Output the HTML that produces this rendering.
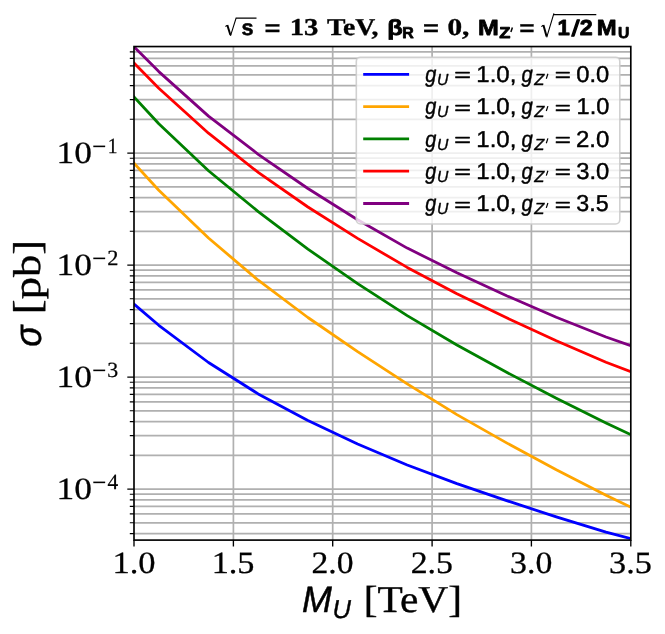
<!DOCTYPE html>
<html><head><meta charset="utf-8"><title>plot</title>
<style>html,body{margin:0;padding:0;background:#fff}svg{display:block}text{fill:#000;white-space:pre;text-rendering:geometricPrecision}</style>
</head><body>
<svg width="665" height="634" viewBox="0 0 665 634">
<rect x="0" y="0" width="665" height="634" fill="#fff"/>
<path d="M233.4 46.5V540.1M332.7 46.5V540.1M432.1 46.5V540.1M531.4 46.5V540.1M134.0 153.1H630.8M134.0 265.1H630.8M134.0 377.1H630.8M134.0 489.1H630.8M134.0 533.6H630.8M134.0 522.8H630.8M134.0 513.9H630.8M134.0 506.4H630.8M134.0 499.9H630.8M134.0 494.2H630.8M134.0 455.3H630.8M134.0 435.6H630.8M134.0 421.6H630.8M134.0 410.8H630.8M134.0 401.9H630.8M134.0 394.4H630.8M134.0 387.9H630.8M134.0 382.2H630.8M134.0 343.3H630.8M134.0 323.6H630.8M134.0 309.6H630.8M134.0 298.8H630.8M134.0 289.9H630.8M134.0 282.4H630.8M134.0 275.9H630.8M134.0 270.2H630.8M134.0 231.3H630.8M134.0 211.6H630.8M134.0 197.6H630.8M134.0 186.8H630.8M134.0 177.9H630.8M134.0 170.4H630.8M134.0 163.9H630.8M134.0 158.2H630.8M134.0 119.3H630.8M134.0 99.6H630.8M134.0 85.6H630.8M134.0 74.8H630.8M134.0 65.9H630.8M134.0 58.4H630.8M134.0 51.9H630.8" stroke="#b0b0b0" stroke-width="1.7" fill="none"/>
<clipPath id="ax"><rect x="134.0" y="46.55" width="496.79999999999995" height="493.55"/></clipPath>
<g clip-path="url(#ax)" fill="none" stroke-width="2.78" stroke-linejoin="round" stroke-linecap="square">
<path d="M134.0 304.1L158.8 325.3L208.5 362.5L258.2 393.9L307.9 420.4L357.6 444.0L407.2 465.0L456.9 483.6L506.6 500.6L556.3 516.9L606.0 532.1L630.8 538.6" stroke="#0000ff"/>
<path d="M134.0 163.1L158.8 190.3L208.5 238.0L258.2 280.2L307.9 317.5L357.6 351.7L407.2 383.8L456.9 414.6L506.6 442.9L556.3 469.8L606.0 495.2L630.8 507.2" stroke="#ffa500"/>
<path d="M134.0 96.9L158.8 123.7L208.5 170.7L258.2 211.6L307.9 249.1L357.6 283.6L407.2 315.6L456.9 345.0L506.6 372.3L556.3 398.2L606.0 423.0L630.8 434.7" stroke="#008000"/>
<path d="M134.0 63.1L158.8 88.2L208.5 133.2L258.2 172.4L307.9 207.0L357.6 238.4L407.2 267.4L456.9 293.8L506.6 317.8L556.3 340.8L606.0 362.3L630.8 371.6" stroke="#ff0000"/>
<path d="M134.0 46.8L158.8 71.6L208.5 116.1L258.2 154.3L307.9 188.5L357.6 219.7L407.2 248.1L456.9 272.7L506.6 295.7L556.3 317.3L606.0 337.0L630.8 345.6" stroke="#800080"/>
</g>
<path d="M134.0 540.1v6.4M233.4 540.1v6.4M332.7 540.1v6.4M432.1 540.1v6.4M531.4 540.1v6.4M630.8 540.1v6.4M134.0 153.1h-6.7M134.0 265.1h-6.7M134.0 377.1h-6.7M134.0 489.1h-6.7" stroke="#000" stroke-width="1.35" fill="none"/>
<path d="M134.0 533.6h-4.2M134.0 522.8h-4.2M134.0 513.9h-4.2M134.0 506.4h-4.2M134.0 499.9h-4.2M134.0 494.2h-4.2M134.0 455.3h-4.2M134.0 435.6h-4.2M134.0 421.6h-4.2M134.0 410.8h-4.2M134.0 401.9h-4.2M134.0 394.4h-4.2M134.0 387.9h-4.2M134.0 382.2h-4.2M134.0 343.3h-4.2M134.0 323.6h-4.2M134.0 309.6h-4.2M134.0 298.8h-4.2M134.0 289.9h-4.2M134.0 282.4h-4.2M134.0 275.9h-4.2M134.0 270.2h-4.2M134.0 231.3h-4.2M134.0 211.6h-4.2M134.0 197.6h-4.2M134.0 186.8h-4.2M134.0 177.9h-4.2M134.0 170.4h-4.2M134.0 163.9h-4.2M134.0 158.2h-4.2M134.0 119.3h-4.2M134.0 99.6h-4.2M134.0 85.6h-4.2M134.0 74.8h-4.2M134.0 65.9h-4.2M134.0 58.4h-4.2M134.0 51.9h-4.2" stroke="#000" stroke-width="1.1" fill="none"/>
<rect x="134.0" y="46.55" width="496.79999999999995" height="493.55" fill="none" stroke="#000" stroke-width="1.65"/>
<rect x="356.3" y="57.3" width="263.49999999999994" height="166.7" rx="4.2" fill="#fff" fill-opacity="0.8" stroke="#ccc" stroke-opacity="0.9" stroke-width="1.6"/>
<path d="M363.2 74.3H409.1" stroke="#0000ff" stroke-width="2.78" fill="none"/>
<path d="M363.2 106.6H409.1" stroke="#ffa500" stroke-width="2.78" fill="none"/>
<path d="M363.2 138.9H409.1" stroke="#008000" stroke-width="2.78" fill="none"/>
<path d="M363.2 171.2H409.1" stroke="#ff0000" stroke-width="2.78" fill="none"/>
<path d="M363.2 203.5H409.1" stroke="#800080" stroke-width="2.78" fill="none"/>
<path d="M547.9 73.8L546.3 78.7M547.9 106.1L546.3 111.0M547.9 138.4L546.3 143.3M547.9 170.7L546.3 175.6M547.9 203.0L546.3 207.9" stroke="#000" stroke-width="1.2" fill="none"/>
<path d="M225.4 26.5L227.2 25.4M230.5 35.8L236.1 18.1H256.5" stroke="#000" stroke-width="1.1" fill="none" stroke-linejoin="miter" stroke-miterlimit="10"/>
<path d="M227.3 25.0L230.4 35.0" stroke="#000" stroke-width="2.0" fill="none"/>
<path d="M541.3 26.6L543.3 25.3M546.7 37.4L553.9 13.4" stroke="#000" stroke-width="1.1" fill="none"/>
<path d="M553.4 14.66H596.3" stroke="#000" stroke-width="1.2" fill="none"/>
<path d="M543.4 25.0L546.6 36.4" stroke="#000" stroke-width="2.0" fill="none"/>
<path d="M512.4 27.4L510.9 32.0" stroke="#000" stroke-width="1.5" fill="none"/>
<g opacity="0.999">
<text transform="translate(112.44,573.20) scale(1.1146,1.0000)" style='font-family:"Liberation Serif",serif;font-size:31.00px;stroke:#000;stroke-width:0.30px;stroke-linejoin:round'>1.0</text>
<text transform="translate(211.66,573.20) scale(1.1060,1.0000)" style='font-family:"Liberation Serif",serif;font-size:31.00px;stroke:#000;stroke-width:0.30px;stroke-linejoin:round'>1.5</text>
<text transform="translate(311.44,573.20) scale(1.0854,1.0000)" style='font-family:"Liberation Serif",serif;font-size:31.00px;stroke:#000;stroke-width:0.30px;stroke-linejoin:round'>2.0</text>
<text transform="translate(410.63,573.20) scale(1.0910,1.0000)" style='font-family:"Liberation Serif",serif;font-size:31.00px;stroke:#000;stroke-width:0.30px;stroke-linejoin:round'>2.5</text>
<text transform="translate(510.06,573.20) scale(1.0901,1.0000)" style='font-family:"Liberation Serif",serif;font-size:31.00px;stroke:#000;stroke-width:0.30px;stroke-linejoin:round'>3.0</text>
<text transform="translate(609.04,573.20) scale(1.1040,1.0000)" style='font-family:"Liberation Serif",serif;font-size:31.00px;stroke:#000;stroke-width:0.30px;stroke-linejoin:round'>3.5</text>
<text transform="translate(56.46,162.65) scale(1.1420,1.0000)" style='font-family:"Liberation Serif",serif;font-size:31.00px;stroke:#000;stroke-width:0.30px;stroke-linejoin:round'>10</text>
<text transform="translate(107.86,152.85) scale(0.9019,1.0000)" style='font-family:"Liberation Serif",serif;font-size:21.70px;stroke:#000;stroke-width:0.25px;stroke-linejoin:round'>1</text>
<text transform="translate(92.02,157.21) scale(1.1793,1.4747)" style='font-family:"Liberation Serif",serif;font-size:21.70px'>−</text>
<text transform="translate(56.46,274.65) scale(1.1420,1.0000)" style='font-family:"Liberation Serif",serif;font-size:31.00px;stroke:#000;stroke-width:0.30px;stroke-linejoin:round'>10</text>
<text transform="translate(107.32,264.85) scale(1.0311,1.0000)" style='font-family:"Liberation Serif",serif;font-size:21.70px;stroke:#000;stroke-width:0.25px;stroke-linejoin:round'>2</text>
<text transform="translate(92.02,269.21) scale(1.1793,1.4747)" style='font-family:"Liberation Serif",serif;font-size:21.70px'>−</text>
<text transform="translate(56.46,386.65) scale(1.1420,1.0000)" style='font-family:"Liberation Serif",serif;font-size:31.00px;stroke:#000;stroke-width:0.30px;stroke-linejoin:round'>10</text>
<text transform="translate(107.23,376.85) scale(1.0060,1.0000)" style='font-family:"Liberation Serif",serif;font-size:21.70px;stroke:#000;stroke-width:0.25px;stroke-linejoin:round'>3</text>
<text transform="translate(92.02,381.21) scale(1.1793,1.4747)" style='font-family:"Liberation Serif",serif;font-size:21.70px'>−</text>
<text transform="translate(56.46,498.65) scale(1.1420,1.0000)" style='font-family:"Liberation Serif",serif;font-size:31.00px;stroke:#000;stroke-width:0.30px;stroke-linejoin:round'>10</text>
<text transform="translate(107.60,488.85) scale(0.9861,1.0000)" style='font-family:"Liberation Serif",serif;font-size:21.70px;stroke:#000;stroke-width:0.25px;stroke-linejoin:round'>4</text>
<text transform="translate(92.02,493.21) scale(1.1793,1.4747)" style='font-family:"Liberation Serif",serif;font-size:21.70px'>−</text>
<text transform="translate(302.02,611.80) scale(0.9739,1.0000)" style='font-family:"Liberation Sans",sans-serif;font-size:36.80px;font-style:italic;stroke:#000;stroke-width:0.50px;stroke-linejoin:round'>M</text>
<text transform="translate(332.48,617.60) scale(0.9899,1.0000)" style='font-family:"Liberation Sans",sans-serif;font-size:25.80px;font-style:italic;stroke:#000;stroke-width:0.40px;stroke-linejoin:round'>U</text>
<text transform="translate(363.80,611.80) scale(1.0893,1.0000)" style='font-family:"Liberation Serif",serif;font-size:38.00px;stroke:#000;stroke-width:0.40px;stroke-linejoin:round'>[TeV]</text>
<text transform="translate(40.80,346.84) rotate(-90) scale(0.9250,1.0000)" style='font-family:"Liberation Sans",sans-serif;font-size:38.20px;font-style:italic;stroke:#000;stroke-width:0.40px;stroke-linejoin:round'>σ</text>
<text transform="translate(40.20,314.14) rotate(-90) scale(1.1466,1.0000)" style='font-family:"Liberation Serif",serif;font-size:38.80px;stroke:#000;stroke-width:0.40px;stroke-linejoin:round'>[pb]</text>
<text transform="translate(241.49,35.00) scale(0.9939,1.0000)" style='font-family:"Liberation Sans",sans-serif;font-size:21.80px;font-weight:bold;stroke:#000;stroke-width:0.50px;stroke-linejoin:round'>s</text>
<text transform="translate(264.51,34.90) scale(1.3138,1.0000)" style='font-family:"Liberation Sans",sans-serif;font-size:20.80px;font-weight:bold;stroke:#000;stroke-width:0.20px;stroke-linejoin:round'>=</text>
<text transform="translate(289.78,34.80) scale(1.1836,1.0000)" style='font-family:"Liberation Serif",serif;font-size:24.20px;font-weight:bold;stroke:#000;stroke-width:0.35px;stroke-linejoin:round'>13</text>
<text transform="translate(326.96,34.80) scale(1.1449,1.0000)" style='font-family:"Liberation Serif",serif;font-size:24.20px;font-weight:bold;stroke:#000;stroke-width:0.35px;stroke-linejoin:round'>TeV,</text>
<text transform="translate(387.33,34.80) scale(1.1574,1.0000)" style='font-family:"Liberation Sans",sans-serif;font-size:21.90px;font-weight:bold;stroke:#000;stroke-width:0.80px;stroke-linejoin:round'>β</text>
<text transform="translate(402.27,38.10) scale(1.0067,1.0000)" style='font-family:"Liberation Sans",sans-serif;font-size:15.80px;font-weight:bold;stroke:#000;stroke-width:0.80px;stroke-linejoin:round'>R</text>
<text transform="translate(422.91,34.90) scale(1.3138,1.0000)" style='font-family:"Liberation Sans",sans-serif;font-size:20.80px;font-weight:bold;stroke:#000;stroke-width:0.20px;stroke-linejoin:round'>=</text>
<text transform="translate(447.40,34.80) scale(1.2119,1.0000)" style='font-family:"Liberation Serif",serif;font-size:24.20px;font-weight:bold;stroke:#000;stroke-width:0.35px;stroke-linejoin:round'>0,</text>
<text transform="translate(477.97,34.80) scale(1.1468,1.0000)" style='font-family:"Liberation Sans",sans-serif;font-size:21.80px;font-weight:bold;stroke:#000;stroke-width:0.80px;stroke-linejoin:round'>M</text>
<text transform="translate(499.35,38.10) scale(1.1655,1.0000)" style='font-family:"Liberation Sans",sans-serif;font-size:15.60px;font-weight:bold;stroke:#000;stroke-width:0.80px;stroke-linejoin:round'>Z</text>
<text transform="translate(519.15,34.60) scale(1.2662,1.0000)" style='font-family:"Liberation Sans",sans-serif;font-size:20.80px;font-weight:bold;stroke:#000;stroke-width:0.20px;stroke-linejoin:round'>=</text>
<text transform="translate(557.56,34.80) scale(1.0161,1.0000)" style='font-family:"Liberation Sans",sans-serif;font-size:21.80px;font-weight:bold;stroke:#000;stroke-width:0.80px;stroke-linejoin:round'>1</text>
<text transform="translate(571.65,36.23) scale(1.2677,1.0298)" style='font-family:"Liberation Sans",sans-serif;font-size:21.80px;stroke:#000;stroke-width:1.10px;stroke-linejoin:round'>/</text>
<text transform="translate(579.68,34.80) scale(1.0703,1.0000)" style='font-family:"Liberation Sans",sans-serif;font-size:21.80px;font-weight:bold;stroke:#000;stroke-width:0.80px;stroke-linejoin:round'>2</text>
<text transform="translate(596.75,34.80) scale(1.0944,1.0000)" style='font-family:"Liberation Sans",sans-serif;font-size:21.80px;font-weight:bold;stroke:#000;stroke-width:0.80px;stroke-linejoin:round'>M</text>
<text transform="translate(618.06,38.10) scale(1.0043,1.0000)" style='font-family:"Liberation Sans",sans-serif;font-size:15.60px;font-weight:bold;stroke:#000;stroke-width:0.80px;stroke-linejoin:round'>U</text>
<text transform="translate(425.13,82.10) scale(0.8655,1.0000)" style='font-family:"Liberation Sans",sans-serif;font-size:23.00px;font-style:italic;stroke:#000;stroke-width:0.45px;stroke-linejoin:round'>g</text>
<text transform="translate(437.02,85.10) scale(0.9747,1.0000)" style='font-family:"Liberation Sans",sans-serif;font-size:16.10px;font-style:italic;stroke:#000;stroke-width:0.40px;stroke-linejoin:round'>U</text>
<text transform="translate(454.13,81.40) scale(1.5380,1.0000)" style='font-family:"Liberation Sans",sans-serif;font-size:18.50px;stroke:#000;stroke-width:0.50px;stroke-linejoin:round'>=</text>
<text transform="translate(476.33,82.10) scale(1.0415,1.0000)" style='font-family:"Liberation Sans",sans-serif;font-size:23.00px;stroke:#000;stroke-width:0.45px;stroke-linejoin:round'>1.0,</text>
<text transform="translate(521.42,82.10) scale(0.8816,1.0000)" style='font-family:"Liberation Sans",sans-serif;font-size:23.00px;font-style:italic;stroke:#000;stroke-width:0.45px;stroke-linejoin:round'>g</text>
<text transform="translate(534.33,85.10) scale(1.0258,1.0000)" style='font-family:"Liberation Sans",sans-serif;font-size:16.10px;font-style:italic;stroke:#000;stroke-width:0.40px;stroke-linejoin:round'>Z</text>
<text transform="translate(554.68,81.40) scale(1.4823,1.0000)" style='font-family:"Liberation Sans",sans-serif;font-size:18.50px;stroke:#000;stroke-width:0.50px;stroke-linejoin:round'>=</text>
<text transform="translate(576.28,82.10) scale(1.0305,1.0000)" style='font-family:"Liberation Sans",sans-serif;font-size:23.00px;stroke:#000;stroke-width:0.45px;stroke-linejoin:round'>0.0</text>
<text transform="translate(425.13,114.40) scale(0.8655,1.0000)" style='font-family:"Liberation Sans",sans-serif;font-size:23.00px;font-style:italic;stroke:#000;stroke-width:0.45px;stroke-linejoin:round'>g</text>
<text transform="translate(437.02,117.40) scale(0.9747,1.0000)" style='font-family:"Liberation Sans",sans-serif;font-size:16.10px;font-style:italic;stroke:#000;stroke-width:0.40px;stroke-linejoin:round'>U</text>
<text transform="translate(454.13,113.70) scale(1.5380,1.0000)" style='font-family:"Liberation Sans",sans-serif;font-size:18.50px;stroke:#000;stroke-width:0.50px;stroke-linejoin:round'>=</text>
<text transform="translate(476.33,114.40) scale(1.0415,1.0000)" style='font-family:"Liberation Sans",sans-serif;font-size:23.00px;stroke:#000;stroke-width:0.45px;stroke-linejoin:round'>1.0,</text>
<text transform="translate(521.42,114.40) scale(0.8816,1.0000)" style='font-family:"Liberation Sans",sans-serif;font-size:23.00px;font-style:italic;stroke:#000;stroke-width:0.45px;stroke-linejoin:round'>g</text>
<text transform="translate(534.33,117.40) scale(1.0258,1.0000)" style='font-family:"Liberation Sans",sans-serif;font-size:16.10px;font-style:italic;stroke:#000;stroke-width:0.40px;stroke-linejoin:round'>Z</text>
<text transform="translate(554.68,113.70) scale(1.4823,1.0000)" style='font-family:"Liberation Sans",sans-serif;font-size:18.50px;stroke:#000;stroke-width:0.50px;stroke-linejoin:round'>=</text>
<text transform="translate(576.56,114.40) scale(1.0247,1.0000)" style='font-family:"Liberation Sans",sans-serif;font-size:23.00px;stroke:#000;stroke-width:0.45px;stroke-linejoin:round'>1.0</text>
<text transform="translate(425.13,146.70) scale(0.8655,1.0000)" style='font-family:"Liberation Sans",sans-serif;font-size:23.00px;font-style:italic;stroke:#000;stroke-width:0.45px;stroke-linejoin:round'>g</text>
<text transform="translate(437.02,149.70) scale(0.9747,1.0000)" style='font-family:"Liberation Sans",sans-serif;font-size:16.10px;font-style:italic;stroke:#000;stroke-width:0.40px;stroke-linejoin:round'>U</text>
<text transform="translate(454.13,146.00) scale(1.5380,1.0000)" style='font-family:"Liberation Sans",sans-serif;font-size:18.50px;stroke:#000;stroke-width:0.50px;stroke-linejoin:round'>=</text>
<text transform="translate(476.33,146.70) scale(1.0415,1.0000)" style='font-family:"Liberation Sans",sans-serif;font-size:23.00px;stroke:#000;stroke-width:0.45px;stroke-linejoin:round'>1.0,</text>
<text transform="translate(521.42,146.70) scale(0.8816,1.0000)" style='font-family:"Liberation Sans",sans-serif;font-size:23.00px;font-style:italic;stroke:#000;stroke-width:0.45px;stroke-linejoin:round'>g</text>
<text transform="translate(534.33,149.70) scale(1.0258,1.0000)" style='font-family:"Liberation Sans",sans-serif;font-size:16.10px;font-style:italic;stroke:#000;stroke-width:0.40px;stroke-linejoin:round'>Z</text>
<text transform="translate(554.68,146.00) scale(1.4823,1.0000)" style='font-family:"Liberation Sans",sans-serif;font-size:18.50px;stroke:#000;stroke-width:0.50px;stroke-linejoin:round'>=</text>
<text transform="translate(576.03,146.70) scale(1.0418,1.0000)" style='font-family:"Liberation Sans",sans-serif;font-size:23.00px;stroke:#000;stroke-width:0.45px;stroke-linejoin:round'>2.0</text>
<text transform="translate(425.13,179.00) scale(0.8655,1.0000)" style='font-family:"Liberation Sans",sans-serif;font-size:23.00px;font-style:italic;stroke:#000;stroke-width:0.45px;stroke-linejoin:round'>g</text>
<text transform="translate(437.02,182.00) scale(0.9747,1.0000)" style='font-family:"Liberation Sans",sans-serif;font-size:16.10px;font-style:italic;stroke:#000;stroke-width:0.40px;stroke-linejoin:round'>U</text>
<text transform="translate(454.13,178.30) scale(1.5380,1.0000)" style='font-family:"Liberation Sans",sans-serif;font-size:18.50px;stroke:#000;stroke-width:0.50px;stroke-linejoin:round'>=</text>
<text transform="translate(476.33,179.00) scale(1.0415,1.0000)" style='font-family:"Liberation Sans",sans-serif;font-size:23.00px;stroke:#000;stroke-width:0.45px;stroke-linejoin:round'>1.0,</text>
<text transform="translate(521.42,179.00) scale(0.8816,1.0000)" style='font-family:"Liberation Sans",sans-serif;font-size:23.00px;font-style:italic;stroke:#000;stroke-width:0.45px;stroke-linejoin:round'>g</text>
<text transform="translate(534.33,182.00) scale(1.0258,1.0000)" style='font-family:"Liberation Sans",sans-serif;font-size:16.10px;font-style:italic;stroke:#000;stroke-width:0.40px;stroke-linejoin:round'>Z</text>
<text transform="translate(554.68,178.30) scale(1.4823,1.0000)" style='font-family:"Liberation Sans",sans-serif;font-size:18.50px;stroke:#000;stroke-width:0.50px;stroke-linejoin:round'>=</text>
<text transform="translate(576.27,179.00) scale(1.0339,1.0000)" style='font-family:"Liberation Sans",sans-serif;font-size:23.00px;stroke:#000;stroke-width:0.45px;stroke-linejoin:round'>3.0</text>
<text transform="translate(425.13,211.30) scale(0.8655,1.0000)" style='font-family:"Liberation Sans",sans-serif;font-size:23.00px;font-style:italic;stroke:#000;stroke-width:0.45px;stroke-linejoin:round'>g</text>
<text transform="translate(437.02,214.30) scale(0.9747,1.0000)" style='font-family:"Liberation Sans",sans-serif;font-size:16.10px;font-style:italic;stroke:#000;stroke-width:0.40px;stroke-linejoin:round'>U</text>
<text transform="translate(454.13,210.60) scale(1.5380,1.0000)" style='font-family:"Liberation Sans",sans-serif;font-size:18.50px;stroke:#000;stroke-width:0.50px;stroke-linejoin:round'>=</text>
<text transform="translate(476.33,211.30) scale(1.0415,1.0000)" style='font-family:"Liberation Sans",sans-serif;font-size:23.00px;stroke:#000;stroke-width:0.45px;stroke-linejoin:round'>1.0,</text>
<text transform="translate(521.42,211.30) scale(0.8816,1.0000)" style='font-family:"Liberation Sans",sans-serif;font-size:23.00px;font-style:italic;stroke:#000;stroke-width:0.45px;stroke-linejoin:round'>g</text>
<text transform="translate(534.33,214.30) scale(1.0258,1.0000)" style='font-family:"Liberation Sans",sans-serif;font-size:16.10px;font-style:italic;stroke:#000;stroke-width:0.40px;stroke-linejoin:round'>Z</text>
<text transform="translate(554.68,210.60) scale(1.4823,1.0000)" style='font-family:"Liberation Sans",sans-serif;font-size:18.50px;stroke:#000;stroke-width:0.50px;stroke-linejoin:round'>=</text>
<text transform="translate(576.30,211.30) scale(1.0106,1.0000)" style='font-family:"Liberation Sans",sans-serif;font-size:23.00px;stroke:#000;stroke-width:0.45px;stroke-linejoin:round'>3.5</text>
</g>
</svg>
</body></html>
